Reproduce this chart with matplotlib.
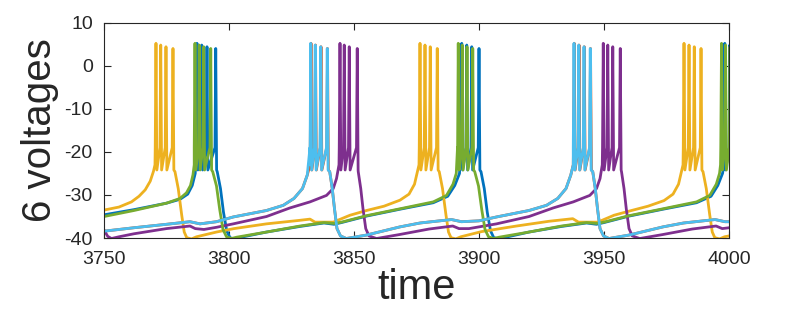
import numpy as np
import matplotlib
matplotlib.use("Agg")
import matplotlib.pyplot as plt

plt.rcParams['font.family'] = ['Liberation Sans', 'DejaVu Sans']
plt.rcParams['axes.unicode_minus'] = False

# colours in plotting order (MATLAB default order)
colors = ['#0072BD', '#D95319', '#EDB120', '#7E2F8E', '#77AC30', '#4DBEEE']

# spike shape (same for all cells)
peak_v = [5.2, 4.8, 4.4, 4.0]
trough_v = -24.2
takeoff_v = -19.0

# ---- cell 1 (blue)
blue_t = [3750, 3762, 3775, 3780.4, 3783.5, 3785.3, 3786.5, 3787.0,
          3795.3, 3796.6, 3797.8, 3799.1, 3800.4, 3802, 3804, 3815, 3828.4, 3838, 3842, 3845, 3855, 3868.4, 3881.7,
          3887.5, 3890.3, 3892.2, 3892.9,
          3900.8, 3902.1, 3903.3, 3904.6, 3905.9, 3908, 3910, 3920, 3933, 3943, 3947, 3950, 3960, 3973.6, 3987,
          3992.8, 3995.5, 3997.4, 3998.0]
blue_v = [-34.6, -33.4, -31.9, -31.0, -29.8, -27.8, -25.0, -23.0,
          -24.6, -28.5, -34.0, -38.3, -39.9, -40.2, -39.9, -38.6, -37.3, -36.5, -36.8, -36.4, -34.9, -33.3, -31.8,
          -30.3, -27.8, -25.0, -23.0,
          -24.6, -28.5, -34.0, -38.3, -39.9, -40.2, -39.9, -38.6, -37.3, -36.5, -36.8, -36.4, -34.9, -33.3, -31.8,
          -30.3, -27.8, -25.0, -23.0]
blue_spikes = [3787.2, 3789.1, 3791.2, 3794.7, 3893.1, 3895.1, 3897.1, 3900.0, 3998.3, 4000.3]

# ---- cell 2 (orange, almost hidden under cell 6)
orange_t = [3750, 3762, 3775, 3784.4, 3788.4, 3795, 3801.7, 3815, 3821.7, 3826, 3829.4, 3831.3, 3832.4,
            3840.3, 3841.3, 3842.2, 3843.2, 3844.6, 3846.9, 3850, 3855, 3868.4, 3876.4, 3889, 3893, 3900,
            3907, 3920, 3927, 3931.5, 3934.8, 3936.7, 3937.7,
            3945.5, 3946.5, 3947.4, 3948.4, 3949.8, 3952, 3955, 3960, 3973.6, 3981.8, 3994.4, 3998.4, 4000]
orange_v = [-38.4, -37.6, -36.8, -36.2, -36.7, -36.2, -35.1, -33.6, -32.4, -30.8, -28.5, -25.4, -23.0,
            -24.6, -28.5, -33.2, -37.8, -39.5, -40.1, -39.8, -39.3, -37.4, -36.5, -35.7, -36.2, -36.0,
            -35.1, -33.6, -32.4, -30.8, -28.5, -25.4, -23.0,
            -24.6, -28.5, -33.2, -37.8, -39.5, -40.1, -39.8, -39.3, -37.4, -36.5, -35.7, -36.2, -36.2]
orange_spikes = [3832.8, 3834.6, 3836.8, 3839.4, 3938.1, 3940.0, 3942.1, 3944.6]

# ---- cell 3 (yellow)
yellow_t = [3750, 3756, 3761, 3764, 3766.5, 3768.5, 3769.8, 3770.4,
            3778.4, 3779.7, 3781.1, 3782.1, 3783.1, 3785, 3787, 3795, 3802, 3815, 3828, 3832.4, 3834.4, 3841.7,
            3848.4, 3855, 3862, 3868.4, 3872, 3874.2, 3875.4, 3876.0,
            3884.1, 3885.4, 3886.8, 3887.8, 3888.8, 3890.7, 3892.7, 3901, 3915, 3928, 3937.5, 3939.8, 3947.5,
            3954, 3961, 3967.6, 3974, 3977.6, 3979.8, 3981.0, 3981.6,
            3989.6, 3990.9, 3992.3, 3993.3, 3994.3, 3996.2, 3998.2, 4000]
yellow_v = [-33.5, -32.8, -31.6, -30.3, -28.8, -26.8, -24.5, -23.0,
            -24.6, -28.5, -34.7, -38.6, -39.9, -40.2, -39.7, -38.6, -37.8, -36.7, -35.9, -35.6, -36.3, -36.3,
            -34.7, -33.6, -32.6, -31.2, -29.8, -27.5, -24.5, -23.0,
            -24.6, -28.5, -34.7, -38.6, -39.9, -40.2, -39.7, -38.5, -37.2, -36.1, -35.5, -36.3, -36.3,
            -34.7, -33.6, -32.6, -31.3, -29.8, -27.5, -24.5, -23.0,
            -24.6, -28.5, -34.7, -38.6, -39.9, -40.2, -39.7, -39.5]
yellow_spikes = [3770.8, 3772.7, 3774.8, 3777.6, 3876.4, 3878.4, 3880.5, 3883.3, 3982.0, 3984.0, 3986.1, 3988.8]

# ---- cell 4 (purple)
purple_t = [3750, 3751.5, 3753, 3756, 3762, 3775, 3784.4, 3786.5, 3790, 3795, 3801.7, 3815, 3824.4,
            3832.4, 3839, 3841.7, 3843, 3844.0,
            3851.7, 3852.7, 3853.6, 3854.7, 3856, 3859, 3862, 3868, 3880, 3889.5, 3892, 3896, 3900, 3907,
            3920, 3929.7, 3937.7, 3944.3, 3947, 3948.4, 3949.3,
            3957.0, 3958.0, 3958.9, 3960.0, 3961.3, 3964.3, 3967.3, 3973.3, 3985.3, 3994.8, 3997.3, 4000]
purple_v = [-38.1, -39.6, -40.1, -39.7, -39.0, -37.8, -37.2, -37.8, -38.0, -37.5, -36.7, -35.0, -33.0,
            -31.6, -30.1, -28.5, -26.2, -23.0,
            -24.6, -28.5, -33.2, -37.8, -39.5, -40.1, -39.8, -39.2, -37.9, -37.2, -37.8, -37.8, -37.4, -36.7,
            -35.0, -33.0, -31.6, -30.1, -28.5, -26.2, -23.0,
            -24.6, -28.5, -33.2, -37.8, -39.5, -40.1, -39.8, -39.2, -37.9, -37.2, -37.8, -37.6]
purple_spikes = [3844.4, 3846.1, 3848.1, 3851.3, 3949.7, 3951.5, 3953.5, 3956.5]

# ---- cell 5 (green)
green_t = [3750, 3762, 3775, 3780.4, 3783, 3784.6, 3785.6, 3786.1,
           3793.5, 3795.0, 3796.3, 3797.6, 3799, 3801, 3803, 3815, 3828.4, 3838, 3842, 3845, 3855, 3868.4, 3881.7,
           3887, 3889.6, 3890.9, 3891.4,
           3898.3, 3899.8, 3901.1, 3902.4, 3903.8, 3905.8, 3908, 3920, 3933, 3943, 3947, 3950, 3960, 3973.6, 3987,
           3992.3, 3994.9, 3996.2, 3996.6]
green_v = [-35.0, -33.6, -31.9, -30.8, -29.5, -27.8, -25.3, -23.0,
           -24.6, -27.9, -33.4, -38.0, -39.7, -40.1, -39.8, -38.6, -37.2, -36.4, -36.6, -36.3, -34.8, -33.2, -31.6,
           -30.1, -27.5, -25.0, -23.0,
           -24.6, -27.9, -33.4, -38.0, -39.7, -40.1, -39.8, -38.6, -37.2, -36.4, -36.6, -36.3, -34.8, -33.2, -31.6,
           -30.1, -27.5, -25.0, -23.0]
green_spikes = [3786.4, 3788.1, 3789.9, 3792.7, 3891.7, 3893.3, 3895.2, 3897.5, 3997.0, 3998.6, 4000.4]

# ---- cell 6 (light blue)
cyan_t = orange_t
cyan_v = orange_v
cyan_spikes = [3832.7, 3834.5, 3836.7, 3839.3, 3938.0, 3939.9, 3942.0, 3944.5]

cells = [(blue_t, blue_v, blue_spikes), (orange_t, orange_v, orange_spikes),
         (yellow_t, yellow_v, yellow_spikes), (purple_t, purple_v, purple_spikes),
         (green_t, green_v, green_spikes), (cyan_t, cyan_v, cyan_spikes)]


def with_spikes(t, v, spikes):
    pts = list(zip(t, v))
    # spikes of one burst follow each other; peak height drops along the burst
    k = 0
    for i, s in enumerate(spikes):
        if i > 0 and s - spikes[i - 1] > 20:
            k = 0
        pk = peak_v[min(k, len(peak_v) - 1)]
        pts += [(s - 0.3, takeoff_v), (s, pk), (s + 0.35, trough_v)]
        k += 1
    pts.sort()
    return np.array([p[0] for p in pts]), np.array([p[1] for p in pts])


fig = plt.figure(figsize=(8.06, 3.10), dpi=100)
ax = fig.add_axes([0.129, 0.232, 0.7755, 0.695])

for (t, v, sp), c in zip(cells, colors):
    x, y = with_spikes(t, v, sp)
    ax.plot(x, y, color=c, lw=2.0)

ax.set_xlim(3750, 4000)
ax.set_ylim(-40, 10)
ax.set_xticks(np.arange(3750, 4001, 50))
ax.set_yticks(np.arange(-40, 11, 10))
ax.tick_params(direction='in', length=5, width=0.8, colors='#262626', labelsize=14,
               top=True, right=True)
ax.tick_params(axis='x', pad=9)
ax.tick_params(axis='y', pad=8)
for sp in ax.spines.values():
    sp.set_color('#262626')
    sp.set_linewidth(0.8)
ax.set_xlabel('time', fontsize=30, color='#262626', labelpad=0)
ax.set_ylabel('6 voltages', fontsize=29, color='#262626', labelpad=4)

fig.savefig('out.png', dpi=100)
